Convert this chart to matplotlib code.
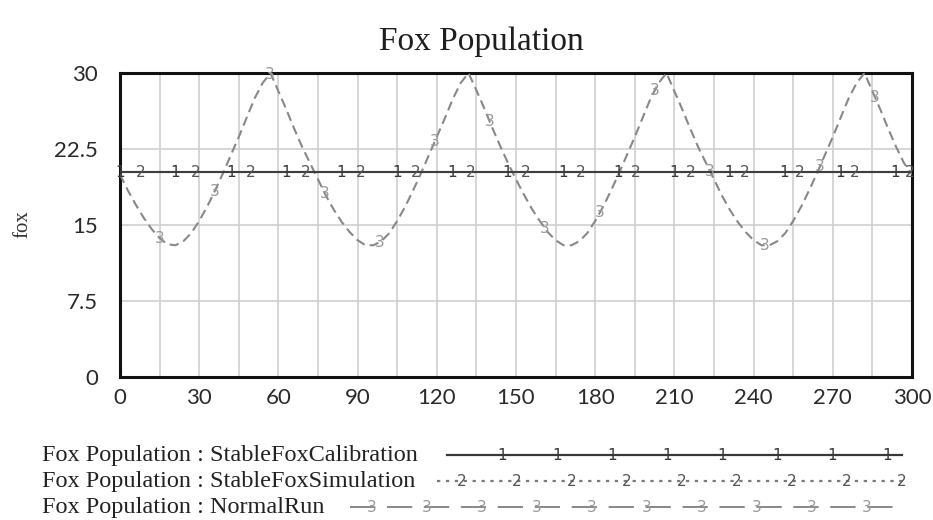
import numpy as np
import matplotlib
matplotlib.use("Agg")
import matplotlib.pyplot as plt

# time axis (every 3 time units) and the NormalRun series
time = list(range(0, 301, 3))
normal_run = [
    20.0, 18.4, 17.0, 15.7, 14.6, 13.7, 13.1, 13.0, 13.4, 14.2,
    15.4, 16.8, 18.4, 20.1, 21.9, 23.7, 25.6, 27.5, 29.0, 30.0,
    28.2, 26.4, 24.5, 22.7, 21.1, 19.5, 17.9, 16.5, 15.3, 14.3,
    13.5, 13.0, 13.0, 13.4, 14.2, 15.4, 16.8, 18.4, 20.1, 21.9,
    23.7, 25.5, 27.4, 29.0, 30.0, 28.3, 26.5, 24.6, 22.8, 21.1,
    19.5, 18.0, 16.6, 15.4, 14.3, 13.5, 13.0, 13.0, 13.4, 14.2,
    15.4, 16.8, 18.4, 20.1, 21.9, 23.7, 25.6, 27.5, 29.0, 30.0,
    28.2, 26.4, 24.5, 22.7, 21.1, 19.5, 17.9, 16.5, 15.3, 14.3,
    13.5, 13.0, 13.0, 13.4, 14.2, 15.4, 16.8, 18.4, 20.1, 21.9,
    23.7, 25.6, 27.5, 29.0, 30.0, 28.2, 26.4, 24.5, 22.7, 21.1,
    20.0,
]
stable_time = [0, 300]
stable_calibration = [20.2, 20.2]
stable_simulation = [20.2, 20.2]

series_names = [
    "Fox Population : StableFoxCalibration",
    "Fox Population : StableFoxSimulation",
    "Fox Population : NormalRun",
]
x_ticks = [0, 30, 60, 90, 120, 150, 180, 210, 240, 270, 300]
y_ticks = [0, 7.5, 15, 22.5, 30]
y_tick_labels = ["0", "7.5", "15", "22.5", "30"]

serif = ["Liberation Serif", "DejaVu Serif"]
tick_font = "Lato"
c1, c2, c3 = "#383838", "#7a7a7a", "#888888"

fig = plt.figure(figsize=(9.33, 5.2), dpi=100)
ax = fig.add_axes([120 / 933, 1 - 377 / 520, 792 / 933, 304 / 520])

ax.set_xlim(0, 300)
ax.set_ylim(0, 30)
ax.set_xticks(np.arange(0, 301, 15), minor=True)
ax.set_xticks(x_ticks)
ax.set_yticks(y_ticks)
ax.set_yticklabels(y_tick_labels)
ax.grid(True, which="both", axis="x", color="#cfcfcf", lw=1.2)
ax.grid(True, axis="y", color="#cfcfcf", lw=1.2)
ax.tick_params(which="both", length=0)
ax.tick_params(axis="y", pad=16)
ax.tick_params(axis="x", pad=8)
for lab in ax.get_xticklabels() + ax.get_yticklabels():
    lab.set_fontfamily(tick_font)
    lab.set_fontsize(16)
    lab.set_color("#2a2a2a")
for sp in ax.spines.values():
    sp.set_linewidth(2.2)
    sp.set_color("#111111")

# lines
ax.plot(time, normal_run, color=c3, lw=1.5, dashes=(4.5, 2.5), zorder=3)
ax.plot(stable_time, stable_simulation, color=c2, lw=1.6, zorder=3)
ax.plot(stable_time, stable_calibration, color=c1, lw=1.3, zorder=4)

# vensim style number markers along the lines
num_font = dict(family="DejaVu Sans", fontsize=11, ha="center", va="center", zorder=5)
for tm in np.linspace(0, 293.6, 15):
    ax.text(tm, np.interp(tm, stable_time, stable_calibration), "1", color=c1, **num_font)
for tm in np.linspace(8, 299.2, 15):
    ax.text(tm, np.interp(tm, stable_time, stable_simulation), "2", color="#555555", **num_font)
for tm in np.linspace(15, 286, 14):
    ax.text(tm, np.interp(tm, time, normal_run), "3", color="#999999", **num_font)

fig.text(481 / 933, 1 - 42 / 520, "Fox Population", family=serif, fontsize=24,
         ha="center", va="center", color="#1e1e1e")
fig.text(23 / 933, 1 - 224 / 520, "fox", family=serif, fontsize=15,
         rotation=90, ha="center", va="center", color="#333333")

# legend block drawn in pixel coordinates
lg = fig.add_axes([0, 0, 1, 1], facecolor="none")
lg.set_xlim(0, 933)
lg.set_ylim(520, 0)
lg.axis("off")
rows = [455, 481, 507]
for name, y in zip(series_names, rows):
    lg.text(42, y, name, family=serif, fontsize=17.5, va="center", ha="left", color="#222222")

lg.plot([447, 902], [rows[0]] * 2, color=c1, lw=1.6)
for xm in np.arange(502, 890, 55):
    lg.text(xm, rows[0], "1", color=c1, **num_font)
lg.plot([437, 905], [rows[1]] * 2, color=c2, lw=1.6, dashes=(1.5, 2.5))
for xm in np.arange(462, 906, 55):
    lg.text(xm, rows[1], "2", color="#555555", **num_font)
lg.plot([350, 895], [rows[2]] * 2, color=c3, lw=1.4, dashes=(13, 6))
for xm in np.arange(372, 870, 55):
    lg.text(xm, rows[2], "3", color="#999999", **num_font)

fig.savefig("out.png", dpi=100, facecolor="white")
